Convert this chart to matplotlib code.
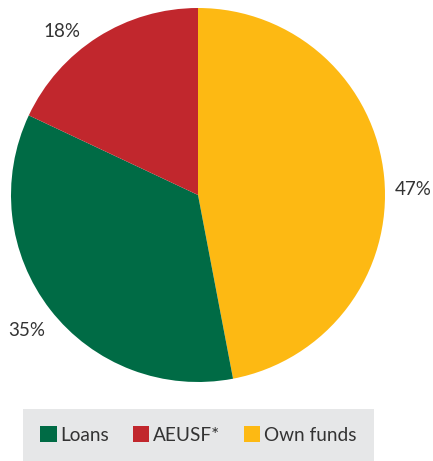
import matplotlib
matplotlib.use("Agg")
import matplotlib.pyplot as plt
from matplotlib.patches import Patch

plt.rcParams['font.family'] = ['Lato', 'DejaVu Sans']

# Funding shares, in drawing order (clockwise from 12 o'clock)
categories = ["Own funds", "Loans", "AEUSF*"]
shares = [47, 35, 18]
colors = ["#FDB913", "#006B45", "#C1272D"]

# Legend order
legend_order = ["Loans", "AEUSF*", "Own funds"]

W, H = 433, 461
fig = plt.figure(figsize=(W / 100, H / 100), dpi=100)
ax = fig.add_axes([0, 0, 1, 1])

cx, cy, r = 198, H - 195, 187
ax.pie(shares, colors=colors, startangle=90, counterclock=False,
       center=(cx, cy), radius=r, frame=True,
       wedgeprops=dict(linewidth=0))
ax.set_xlim(0, W)
ax.set_ylim(0, H)
ax.set_aspect('equal')
ax.axis('off')

# Percentage labels outside the slices
label_pos = {"Own funds": (413, 189), "Loans": (27, 330), "AEUSF*": (62, 31)}
for cat, val in zip(categories, shares):
    x, y = label_pos[cat]
    ax.text(x, H - y, f"{val}%", ha='center', va='center',
            fontsize=13.5, color="#333333")

# Legend box
handles = [Patch(facecolor=colors[categories.index(c)], edgecolor='none', label=c)
           for c in legend_order]
leg = ax.legend(handles=handles, loc='center', ncol=3,
                bbox_to_anchor=(198.5 / W, 1 - 435 / H),
                frameon=True, fancybox=False, fontsize=13.7,
                handlelength=0.85, handleheight=0.85, handletextpad=0.2,
                columnspacing=1.25, borderpad=0.9,
                labelcolor="#333333")
frame = leg.get_frame()
frame.set_facecolor("#E6E7E8")
frame.set_edgecolor("none")
frame.set_alpha(1)

fig.savefig("out.png", dpi=100)
